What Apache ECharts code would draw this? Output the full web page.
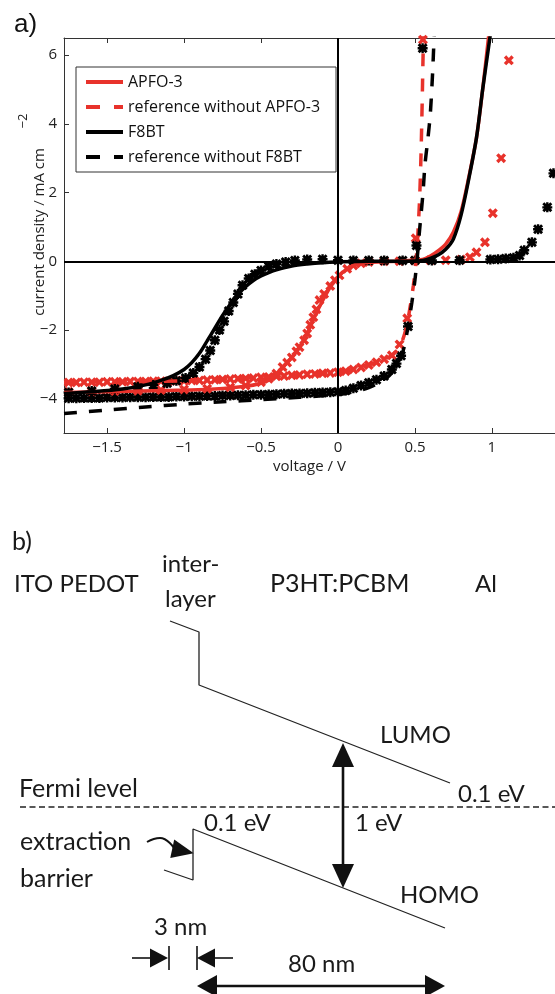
<!DOCTYPE html>
<html><head><meta charset="utf-8">
<script src="https://cdn.jsdelivr.net/npm/echarts@6/dist/echarts.min.js"></script>
<style>html,body{margin:0;padding:0;background:#fff}#c{width:555px;height:994px}</style>
</head><body><div id="c"></div><script>
// ---------- panel a) data (voltage / V, current density / mA cm^-2) ----------
const xTicks = [-1.5, -1, -0.5, 0, 0.5, 1];
const yTicks = [-4, -2, 0, 2, 4, 6];
const legendNames = ['APFO-3', 'reference without APFO-3', 'F8BT', 'reference without F8BT'];

// measured: reference without APFO-3 (red crosses)
const refApfoV = [-1.75,-1.70,-1.65,-1.60,-1.55,-1.50,-1.45,-1.40,-1.35,-1.30,-1.25,-1.20,-1.15,-1.10,-1.05,-1.00,-0.95,-0.90,-0.85,-0.80,-0.75,-0.70,-0.65,-0.60,-0.55,-0.50,-0.45,-0.40,-0.35,-0.30,-0.25,-0.20,-0.15,-0.10,-0.05,0.00,0.05,0.10,0.15,0.20,0.25,0.30,0.35,0.40,0.45,0.505,0.552];
const refApfoJ = [-3.53,-3.53,-3.52,-3.52,-3.52,-3.51,-3.51,-3.51,-3.50,-3.50,-3.50,-3.49,-3.49,-3.49,-3.48,-3.48,-3.47,-3.47,-3.46,-3.45,-3.44,-3.43,-3.42,-3.41,-3.40,-3.38,-3.37,-3.35,-3.34,-3.32,-3.31,-3.29,-3.28,-3.26,-3.25,-3.23,-3.20,-3.15,-3.09,-3.02,-2.94,-2.85,-2.74,-2.42,-1.66,0.67,6.45];
// measured: reference without F8BT (black asterisks)
const refF8V = [-1.75,-1.70,-1.65,-1.60,-1.55,-1.50,-1.45,-1.40,-1.35,-1.30,-1.25,-1.20,-1.15,-1.10,-1.05,-1.00,-0.95,-0.90,-0.85,-0.80,-0.75,-0.70,-0.65,-0.60,-0.55,-0.50,-0.45,-0.40,-0.35,-0.30,-0.25,-0.20,-0.15,-0.10,-0.05,0.00,0.05,0.10,0.15,0.20,0.25,0.30,0.35,0.38,0.41,0.455,0.51,0.55];
const refF8J = [-3.99,-3.99,-3.98,-3.98,-3.98,-3.97,-3.97,-3.97,-3.96,-3.96,-3.96,-3.95,-3.95,-3.95,-3.94,-3.94,-3.93,-3.93,-3.92,-3.92,-3.91,-3.91,-3.90,-3.90,-3.89,-3.89,-3.88,-3.87,-3.86,-3.85,-3.85,-3.84,-3.83,-3.82,-3.81,-3.80,-3.76,-3.70,-3.62,-3.54,-3.45,-3.34,-3.15,-2.98,-2.75,-1.90,0.46,6.20];
// measured: APFO-3 device (red crosses)
const apfoV = [-1.75,-1.6,-1.45,-1.3,-1.15,-1.0,-0.85,-0.7,-0.6,-0.5,-0.45,-0.4,-0.36,-0.33,-0.3,-0.27,-0.25,-0.22,-0.2,-0.18,-0.16,-0.14,-0.12,-0.09,-0.05,-0.02,0.01,0.06,0.1,0.15,0.2,0.3,0.4,0.5,0.6,0.7,0.8,0.857,0.9,0.955,1.006,1.06,1.11];
const apfoJ = [-3.80,-3.79,-3.78,-3.77,-3.75,-3.73,-3.71,-3.67,-3.62,-3.52,-3.42,-3.27,-3.08,-2.95,-2.8,-2.62,-2.5,-2.3,-2.1,-1.85,-1.63,-1.4,-1.13,-0.95,-0.72,-0.55,-0.41,-0.22,-0.12,-0.06,-0.02,0,0,0.02,0.03,0.03,0.05,0.12,0.26,0.55,1.4,3.0,5.85];
// measured: F8BT device (black asterisks)
const f8V = [-1.75,-1.6,-1.45,-1.3,-1.2,-1.11,-1.05,-0.99,-0.94,-0.9,-0.86,-0.83,-0.8,-0.77,-0.74,-0.71,-0.68,-0.65,-0.62,-0.58,-0.54,-0.5,-0.45,-0.4,-0.34,-0.28,-0.2,-0.1,0,0.1,0.2,0.3,0.42,0.5,0.61,0.79,0.99,1.04,1.09,1.14,1.18,1.21,1.26,1.30,1.36,1.40];
const f8J = [-3.82,-3.78,-3.72,-3.65,-3.6,-3.55,-3.48,-3.4,-3.25,-3.08,-2.85,-2.6,-2.3,-2.0,-1.75,-1.45,-1.2,-0.95,-0.7,-0.5,-0.38,-0.27,-0.15,-0.08,-0.02,0.02,0.05,0.06,0.03,0.02,0.02,0.02,0.02,0.02,0.02,0.03,0.05,0.06,0.08,0.1,0.17,0.32,0.55,0.93,1.57,2.56];
// fitted curves
const apfoFitV = [-1.78,-1.5,-1.2,-1.0,-0.8,-0.6,-0.5,-0.45,-0.4,-0.35,-0.3,-0.25,-0.2,-0.15,-0.1,-0.05,0,0.05,0.1,0.15,0.2,0.3,0.4,0.5,0.55,0.6,0.65,0.7,0.75,0.8,0.85,0.9,0.94,0.98];
const apfoFitJ = [-3.82,-3.8,-3.77,-3.75,-3.72,-3.64,-3.55,-3.46,-3.3,-3.05,-2.8,-2.5,-2.1,-1.6,-1.15,-0.75,-0.45,-0.25,-0.12,-0.06,-0.03,-0.01,0,0.03,0.05,0.15,0.3,0.5,0.85,1.45,2.45,3.6,5.0,6.6];
const f8FitV = [-1.78,-1.6,-1.4,-1.25,-1.15,-1.07,-1.0,-0.95,-0.9,-0.85,-0.8,-0.75,-0.7,-0.65,-0.6,-0.55,-0.5,-0.45,-0.4,-0.3,-0.2,-0.1,0,0.2,0.4,0.5,0.55,0.6,0.65,0.7,0.75,0.8,0.85,0.9,0.94,0.99];
const f8FitJ = [-3.85,-3.8,-3.72,-3.6,-3.47,-3.33,-3.15,-2.95,-2.68,-2.32,-1.95,-1.58,-1.25,-0.96,-0.74,-0.56,-0.43,-0.33,-0.25,-0.14,-0.08,-0.04,-0.02,0,0,0.01,0.02,0.08,0.18,0.35,0.65,1.35,2.4,3.6,5.0,6.6];
const refApfoFitV = [-1.78,-1.5,-1.0,-0.5,0,0.1,0.2,0.3,0.35,0.4,0.44,0.47,0.49,0.505,0.515,0.525,0.532,0.54,0.547,0.552,0.556];
const refApfoFitJ = [-3.53,-3.51,-3.48,-3.38,-3.23,-3.15,-3.02,-2.85,-2.74,-2.5,-2.0,-1.3,-0.7,-0.1,0.5,1.3,2.0,3.2,4.6,5.8,6.6];
const refF8FitV = [-1.78,-1.5,-1.25,-1.0,-0.75,-0.5,-0.25,0,0.1,0.2,0.3,0.35,0.4,0.43,0.455,0.48,0.5,0.515,0.53,0.552,0.565,0.585,0.6,0.615,0.625];
const refF8FitJ = [-4.43,-4.33,-4.24,-4.16,-4.09,-4.03,-3.96,-3.88,-3.8,-3.68,-3.45,-3.25,-2.9,-2.5,-1.9,-1.2,-0.55,0.1,0.9,1.97,2.8,3.6,4.3,5.5,6.6];

// ---------- panel b) schematic (drawing units on a hidden 555x994 grid) ----------
const lumoPath = [[170,621],[199,632],[199,685],[450,783]];
const homoPath = [[164,870],[193,880],[193,829],[445,928]];
const fermiLine = [[20,807],[555,807]];
const gapShaft = [[343,760],[343,871]];
const gapHeads = [[343,755,0],[343,876,180]];
const curvedArrow = [[147,842],[160,838],[174,848]];
const curvedHead = [[183,851,-102]];
const nm3LeftShaft = [[132,958],[150,958]];
const nm3RightShaft = [[215,958],[233,958]];
const nm3Bars = [[[169,946],[169,970]],[[197,946],[197,970]]];
const nm3Heads = [[159,958,-90],[206,958,90]];
const nm80Shaft = [[214,986],[428,986]];
const nm80Heads = [[207,986,90],[435,986,-90]];
const diagramLabels = [
  ['b)',12,542,25],['ITO PEDOT',14,584,24],['inter-',162,564,24],['layer',165,599,24],
  ['P3HT:PCBM',270,584,25],['Al',475,584,24],['LUMO',380,735,24],['Fermi level',19,789,25],
  ['0.1 eV',458,794,24],['0.1 eV',204,823,24],['1 eV',355,823,24],['extraction',20,842,25],
  ['barrier',20,879,25],['HOMO',400,895,24],['3 nm',154,927,24],['80 nm',288,964,24]
];

const zip = (a, b) => a.map((v, i) => [v, b[i]]);
const RED = '#e8322b', BLK = '#000';
const crossPath = 'path://M0,2.4L2.4,0L5,2.6L7.6,0L10,2.4L7.4,5L10,7.6L7.6,10L5,7.4L2.4,10L0,7.6L2.6,5Z';
const starPath = 'path://M0,2L2,0L5,3L8,0L10,2L7,5L10,8L8,10L5,7L2,10L0,8L3,5Z M3.8,0L6.2,0L6.2,3.8L10,3.8L10,6.2L6.2,6.2L6.2,10L3.8,10L3.8,6.2L0,6.2L0,3.8L3.8,3.8Z';
const fmt = v => (v < 0 ? '\u2212' : '') + Math.abs(v);
const tickFont = {fontFamily: 'Open Sans', fontSize: 15, color: '#222'};

function scat(data, sym, color, size) {
  return {type: 'scatter', xAxisIndex: 0, yAxisIndex: 0, data, symbol: sym, symbolSize: size,
    itemStyle: {color, opacity: 1}, silent: true, z: 2};
}
function fit(name, data, color, dashed) {
  return {type: 'line', name, xAxisIndex: 0, yAxisIndex: 0, data, symbol: 'none', smooth: 0.3,
    lineStyle: {color, width: 3.5, type: dashed ? [13, 12] : 'solid'}, itemStyle: {color}, z: 4};
}
function dline(data, opts) {
  return Object.assign({type: 'line', xAxisIndex: 2, yAxisIndex: 1, data, symbol: 'none', silent: true,
    lineStyle: {color: '#222', width: 1.3}}, opts || {});
}
function dline2(data, w) { return dline(data, {lineStyle: {color: '#111', width: w}}); }
function heads(arr, size) {
  return {type: 'scatter', xAxisIndex: 2, yAxisIndex: 1, symbol: 'triangle', silent: true,
    data: arr.map(p => ({value: [p[0], p[1]], symbolRotate: p[2]})), symbolSize: size,
    itemStyle: {color: '#111', opacity: 1}};
}

const series = [
  scat(zip(refApfoV, refApfoJ), crossPath, RED, 10),
  scat(zip(refF8V, refF8J), starPath, BLK, 10),
  scat(zip(apfoV, apfoJ), crossPath, RED, 10),
  scat(zip(f8V, f8J), starPath, BLK, 10),
  Object.assign(fit(legendNames[0], zip(apfoFitV, apfoFitJ), RED, false), {
    markLine: {silent: true, symbol: ['none', 'none'], label: {show: false}, animation: false,
      lineStyle: {color: '#000', width: 2, type: 'solid'}, data: [{xAxis: 0}, {yAxis: 0}]}
  }),
  fit(legendNames[1], zip(refApfoFitV, refApfoFitJ), RED, true),
  fit(legendNames[2], zip(f8FitV, f8FitJ), BLK, false),
  fit(legendNames[3], zip(refF8FitV, refF8FitJ), BLK, true),
  // diagram
  dline(lumoPath), dline(homoPath),
  dline(fermiLine, {lineStyle: {color: '#222', width: 1.4, type: [6, 3.5]}}),
  dline2(gapShaft, 2.6), heads(gapHeads, [22, 24]),
  dline(curvedArrow, {smooth: true, lineStyle: {color: '#111', width: 2}}), heads(curvedHead, [19, 22]),
  dline2(nm3LeftShaft, 1.6), dline2(nm3RightShaft, 1.6),
  dline2(nm3Bars[0], 1.6), dline2(nm3Bars[1], 1.6), heads(nm3Heads, [19, 18]),
  dline2(nm80Shaft, 2.6), heads(nm80Heads, [22, 20])
];

const graphic = [
  {type: 'text', x: 14, y: 25, style: {text: 'a)', fontSize: 26, fontFamily: 'Liberation Sans', fill: '#111', verticalAlign: 'middle', textVerticalAlign: 'middle'}},
  {type: 'text', x: 40, y: 232, rotation: Math.PI / 2, style: {text: 'current density / mA cm', fontSize: 15, fontFamily: 'Open Sans', fill: '#222', align: 'center', textAlign: 'center', verticalAlign: 'middle', textVerticalAlign: 'middle'}},
  {type: 'text', x: 23, y: 121, rotation: Math.PI / 2, style: {text: '\u22122', fontSize: 13, fontFamily: 'Open Sans', fill: '#222', align: 'center', textAlign: 'center', verticalAlign: 'middle', textVerticalAlign: 'middle'}}
].concat(diagramLabels.map(l => ({type: 'text', x: l[1], y: l[2],
  style: {text: l[0], fontSize: l[3], fontFamily: 'Lato', fill: '#1a1a1a', verticalAlign: 'middle', textVerticalAlign: 'middle'}})));

const chart = echarts.init(document.getElementById('c'), null, {renderer: 'canvas'});
chart.setOption({
  animation: false,
  backgroundColor: '#fff',
  grid: [{left: 64, top: 38, right: 0, height: 395}, {left: 0, top: 0, width: 555, height: 994}],
  legend: {
    orient: 'vertical', left: 76, top: 67, padding: [7, 16, 7, 8], itemGap: 9, itemWidth: 37, itemHeight: 14,
    borderColor: '#333', borderWidth: 1, backgroundColor: '#fff',
    textStyle: {fontFamily: 'Open Sans', fontSize: 16, color: '#111'},
    itemStyle: {color: 'rgba(0,0,0,0)', borderColor: 'rgba(0,0,0,0)', borderWidth: 0},
    lineStyle: {width: 4},
    data: legendNames.map((n, i) => i % 2 ? {name: n, lineStyle: {type: [14, 14], width: 4}} : {name: n})
  },
  xAxis: [
    {gridIndex: 0, type: 'value', min: -1.78, max: 1.41, position: 'bottom',
      axisLine: {show: true, onZero: false, lineStyle: {color: '#333', width: 1}},
      axisTick: {show: true, inside: true, length: 5, customValues: xTicks, lineStyle: {color: '#333'}},
      axisLabel: Object.assign({customValues: xTicks, formatter: fmt, margin: 7}, tickFont),
      splitLine: {show: false},
      name: 'voltage / V', nameLocation: 'middle', nameGap: 26,
      nameTextStyle: {fontFamily: 'Open Sans', fontSize: 15, color: '#222'}},
    {gridIndex: 0, type: 'value', min: -1.78, max: 1.41, position: 'top',
      axisLine: {show: true, onZero: false, lineStyle: {color: '#333', width: 1}},
      axisTick: {show: true, inside: true, length: 5, customValues: xTicks, lineStyle: {color: '#333'}},
      axisLabel: {show: false}, splitLine: {show: false}},
    {gridIndex: 1, type: 'value', min: 0, max: 555, show: false}
  ],
  yAxis: [
    {gridIndex: 0, type: 'value', min: -5, max: 6.5,
      axisLine: {show: true, onZero: false, lineStyle: {color: '#333', width: 1}},
      axisTick: {show: true, inside: true, length: 5, customValues: yTicks, lineStyle: {color: '#333'}},
      axisLabel: Object.assign({customValues: yTicks, formatter: fmt, margin: 7}, tickFont),
      splitLine: {show: false}},
    {gridIndex: 1, type: 'value', min: 0, max: 994, inverse: true, show: false}
  ],
  graphic,
  series
});
</script></body></html>
